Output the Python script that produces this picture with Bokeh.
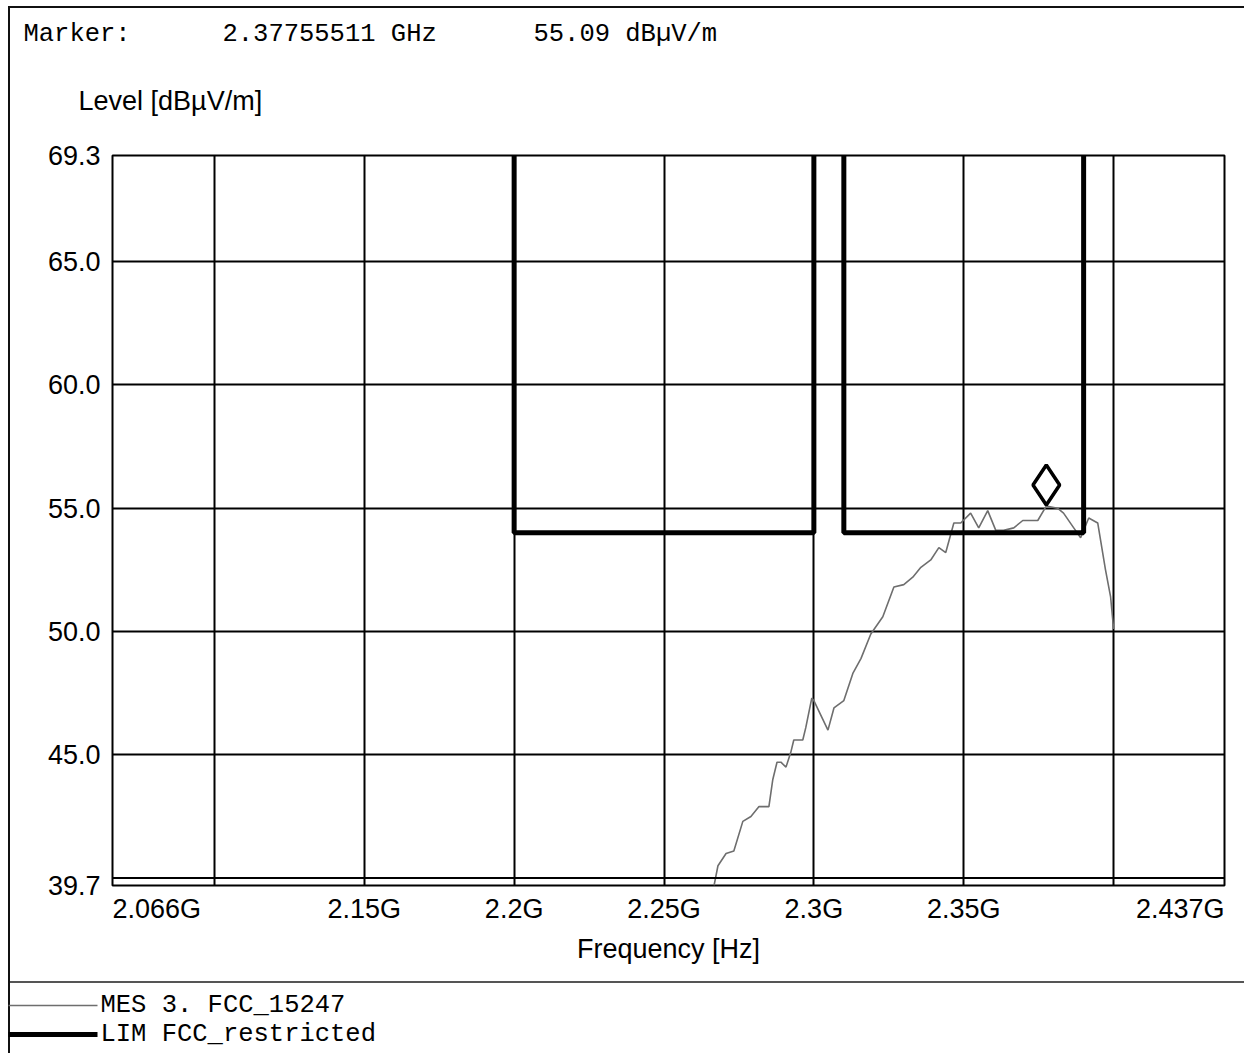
from bokeh.plotting import figure
from bokeh.models import (FixedTicker, PrintfTickFormatter, Span, Range1d)
from bokeh.core.properties import value
from bokeh.embed import file_html
from bokeh.resources import INLINE

# ---------------- data ----------------
x_min, x_max = 2.066, 2.437          # GHz
y_min, y_max = 39.7, 69.3            # dBuV/m

x_tick_values = [2.066, 2.15, 2.2, 2.25, 2.3, 2.35, 2.437]
x_tick_labels = ["2.066G", "2.15G", "2.2G", "2.25G", "2.3G", "2.35G", "2.437G"]
x_grid_values = [2.1, 2.15, 2.2, 2.25, 2.3, 2.35, 2.4]
y_tick_values = [39.7, 45.0, 50.0, 55.0, 60.0, 65.0, 69.3]
y_grid_values = [45.0, 50.0, 55.0, 60.0, 65.0]

# measurement trace "MES 3. FCC_15247"
mes_freq = [2.2667, 2.2680, 2.2707, 2.2733, 2.2763, 2.2790, 2.2817, 2.2850, 2.2863, 2.2877,
            2.2890, 2.2907, 2.2923, 2.2933, 2.2963, 2.2973, 2.2993, 2.3000, 2.3047, 2.3067,
            2.3100, 2.3130, 2.3157, 2.3190, 2.3230, 2.3267, 2.3300, 2.3330, 2.3357, 2.3390,
            2.3417, 2.3440, 2.3467, 2.3490, 2.3523, 2.3550, 2.3580, 2.3607, 2.3633, 2.3667,
            2.3697, 2.3747, 2.37755511, 2.3813, 2.3833, 2.3867, 2.3890, 2.3917, 2.3947, 2.3973,
            2.3990, 2.4000]
mes_level = [39.7, 40.5, 41.0, 41.1, 42.3, 42.5, 42.9, 42.9, 44.0, 44.7,
             44.7, 44.5, 45.1, 45.6, 45.6, 46.1, 47.3, 47.2, 46.0, 46.9,
             47.2, 48.3, 48.9, 49.9, 50.6, 51.8, 51.9, 52.2, 52.6, 52.9,
             53.4, 53.2, 54.4, 54.4, 54.8, 54.2, 54.9, 54.1, 54.1, 54.2,
             54.5, 54.5, 55.09, 55.0, 54.8, 54.2, 53.8, 54.6, 54.4, 52.5,
             51.4, 50.1]

# limit line "LIM FCC_restricted" (restricted bands 2.2-2.3 GHz and 2.31-2.39 GHz)
lim_freq = [2.066, 2.2, 2.2, 2.3, 2.3, 2.31, 2.31, 2.39, 2.39, 2.437]
lim_level = [74.0, 74.0, 54.0, 54.0, 74.0, 74.0, 54.0, 54.0, 74.0, 74.0]

floor_level = 40.0

marker_freq = 2.37755511
marker_level = 55.09
marker_text = ["Marker:", "2.37755511 GHz", "55.09 dBµV/m"]

legend_names = ["MES 3. FCC_15247", "LIM FCC_restricted"]

# styles
MES_STYLE = dict(line_color="#6e6e6e", line_width=1.6)
LIM_STYLE = dict(line_color="black", line_width=5)
SANS = value("Liberation Sans")
MONO = value("Liberation Mono")

# ---------------- chart ----------------
W, H = 1244, 1053
FL, FR, FT, FB = 112, 20, 155, 168

p = figure(width=W, height=H, output_backend="svg", toolbar_location=None,
           x_range=Range1d(x_min, x_max), y_range=Range1d(y_min, y_max),
           min_border_left=FL, min_border_right=FR, min_border_top=FT, min_border_bottom=FB)
p.background_fill_color = "white"
p.border_fill_alpha = 0.0
p.outline_line_color = "black"
p.outline_line_width = 2
# page rules (top, left, legend separator) as CSS background
p.styles = {"background":
            "linear-gradient(#111,#111) 8px 6px / 1236px 2px no-repeat,"
            "linear-gradient(#111,#111) 8px 6px / 2px 1047px no-repeat,"
            "linear-gradient(#555,#555) 8px 981px / 1236px 2px no-repeat,"
            "#ffffff"}

p.xaxis.visible = False
p.xgrid.ticker = FixedTicker(ticks=x_grid_values)
p.ygrid.ticker = FixedTicker(ticks=y_grid_values)
for g in (p.xgrid, p.ygrid):
    g.grid_line_color = "black"
    g.grid_line_width = 2
    g.grid_line_alpha = 1.0

yax = p.yaxis[0]
yax.ticker = FixedTicker(ticks=y_tick_values)
yax.formatter = PrintfTickFormatter(format="%.1f")
yax.axis_line_color = None
yax.major_tick_line_color = None
yax.minor_tick_line_color = None
yax.major_label_standoff = 6
yax.major_label_text_font = "Liberation Sans"
yax.major_label_text_font_size = "27px"
yax.major_label_text_color = "black"

p.add_layout(Span(location=floor_level, dimension="width", line_color="black", line_width=2))

p.line(mes_freq, mes_level, **MES_STYLE)
p.line(lim_freq, lim_level, **LIM_STYLE)

# scale factors (pixels per data unit) of the frame
px_per_ghz = (W - FL - FR) / (x_max - x_min)
px_per_db = (H - FT - FB) / (y_max - y_min)

# marker diamond sitting on the marker point
dsize = 40
p.scatter([marker_freq], [marker_level + (dsize / 2 + 1) / px_per_db], marker="diamond",
          size=dsize, fill_color=None, line_color="black", line_width=3.5)

# texts outside the frame: text glyphs on the overlay level, anchored to frame corners
aligns = ["left"] + ["center"] * (len(x_tick_values) - 2) + ["right"]
p.text(x=x_tick_values, y=[y_min] * len(x_tick_values), text=x_tick_labels,
       text_align=aligns, text_baseline="middle", y_offset=23,
       text_font=SANS, text_font_size="27px", text_color="black", level="overlay")

p.text(x=[(x_min + x_max) / 2], y=[y_min], text=["Frequency [Hz]"], text_align="center",
       text_baseline="middle", y_offset=63, text_font=SANS, text_font_size="27px",
       text_color="black", level="overlay")

p.text(x=[x_min], y=[y_max], text=["Level [dBµV/m]"], text_align="left",
       text_baseline="middle", x_offset=-34, y_offset=-55, text_font=SANS,
       text_font_size="27px", text_color="black", level="overlay")

p.text(x=[x_min] * 3, y=[y_max] * 3, text=marker_text, text_align="left",
       text_baseline="middle", x_offset=[-89, 110, 421], y_offset=-121.5, text_font=MONO,
       text_font_size="25.5px", text_color="black", level="overlay")

# legend block below the separator (line samples + labels), placed from the frame's corner
row_dy = [120, 149]                      # px below the frame bottom
sample_x0 = x_min - (FL - 8) / px_per_ghz
sample_x1 = x_min - (FL - 97) / px_per_ghz
for dy, style in zip(row_dy, (MES_STYLE, LIM_STYLE)):
    yy = y_min - dy / px_per_db
    p.line([sample_x0, sample_x1], [yy, yy], level="overlay", **style)

p.text(x=[x_min] * 2, y=[y_min] * 2, text=legend_names, text_align="left",
       text_baseline="middle", x_offset=-12, y_offset=row_dy, text_font=MONO,
       text_font_size="25.5px", text_color="black", level="overlay")

open("out.html", "w").write(file_html(p, INLINE))
